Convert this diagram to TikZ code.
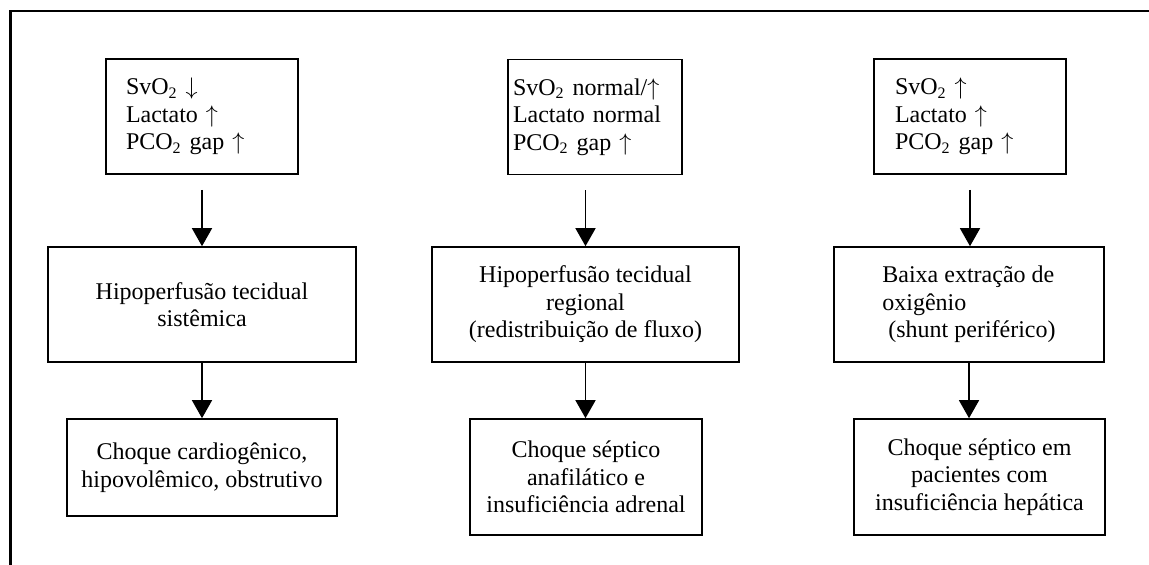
\documentclass[tikz,border=0pt]{standalone}
\usepackage{fontspec}
\setmainfont{Liberation Serif}
\usetikzlibrary{arrows.meta}
\begin{document}
\begin{tikzpicture}[x=0.5pt, y=-0.5pt]

\tikzset{
    caixa/.style={draw, line width=0.8pt, inner ysep=0pt, font=\fontsize{12}{13.8}\selectfont},
    sinais/.style={caixa, align=left, minimum height=57.5pt},
    mecanismo/.style={caixa, align=center, minimum height=57.5pt},
    choque/.style={caixa, align=center, minimum height=58pt},
    seta/.style={-{Triangle[width=10pt, length=9pt]}, line width=0.75pt}
}
\useasboundingbox (0,0) rectangle (1149,565);
\draw[line width=1.2pt] (10.5,565) -- (10.5,11) -- (1149,11);

\node[sinais, inner xsep=10pt, text width=76pt] (sinais1) at (202,116.5) {SvO\textsubscript{2} $\downarrow$\\Lactato $\uparrow$\\PCO\textsubscript{2} gap $\uparrow$};
\node[sinais, inner xsep=2.5pt, text width=82pt] (sinais2) at (595,117) {SvO\textsubscript{2} normal/$\uparrow$\\Lactato normal\\PCO\textsubscript{2} gap $\uparrow$};
\node[sinais, inner xsep=10.5pt, text width=75pt] (sinais3) at (970,116.5) {SvO\textsubscript{2} $\uparrow$\\Lactato $\uparrow$\\PCO\textsubscript{2} gap $\uparrow$};

\node[mecanismo, minimum width=154pt] (mec1) at (202,304.5) {Hipoperfusão tecidual\\sistêmica};
\node[mecanismo, minimum width=153.5pt] (mec2) at (585.5,304.5) {Hipoperfusão tecidual\\regional\\(redistribuição de fluxo)};
\node[mecanismo, align=left, minimum width=135pt] (mec3) at (969,304.5) {Baixa extração de\\oxigênio\\\ (shunt periférico)};

\node[choque, minimum width=135pt, minimum height=48.5pt] (choque1) at (202,467.5) {Choque cardiogênico,\\hipovolêmico, obstrutivo};
\node[choque, minimum width=116pt] (choque2) at (586,477) {Choque séptico\\anafilático e\\insuficiência adrenal};
\node[choque, minimum width=125.5pt] (choque3) at (979.5,477) {Choque séptico em\\pacientes com\\insuficiência hepática};

\draw[seta, shorten <=7.5pt] (sinais1) -- (mec1);
\draw[seta] (mec1) -- (choque1);
\draw[seta, shorten <=7.5pt] (sinais2.south -| mec2.north) -- (mec2.north);
\draw[seta] (mec2.south) -- (mec2.south |- choque2.north);
\draw[seta, shorten <=7.5pt] (sinais3.south) -- (sinais3.south |- mec3.north);
\draw[seta] (mec3.south) -- (mec3.south |- choque3.north);
\end{tikzpicture}
\end{document}
